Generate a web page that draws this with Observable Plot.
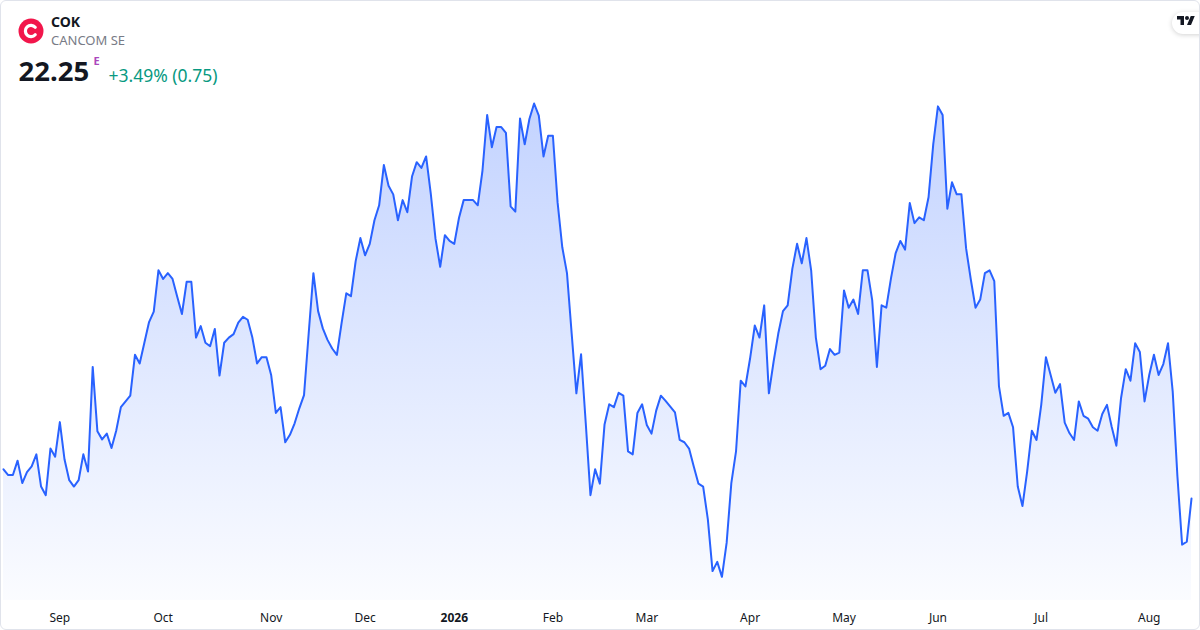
<!DOCTYPE html>
<html>
<head>
<meta charset="utf-8">
<script src="https://cdn.jsdelivr.net/npm/d3@7"></script>
<script src="https://cdn.jsdelivr.net/npm/@observablehq/plot@0.6"></script>
<style>
  html, body { margin: 0; padding: 0; background: #fff; }
  #card { position: relative; width: 1200px; height: 630px; overflow: hidden; font-family: "Noto Sans", sans-serif; background: #fff; }
  #chart { position: absolute; left: 0; top: 96px; }
  #header { position: absolute; left: 0; top: 0; }
  #tv { position: absolute; left: 1172px; top: 12px; width: 44px; height: 22px; border-radius: 11px; background: #fff; box-shadow: 0 1px 5px rgba(0,0,0,0.18); }
  #tv svg { position: absolute; left: 5px; top: 4px; }
  #border { position: absolute; left: 0; top: 0; width: 1200px; height: 630px; box-sizing: border-box; border: 1px solid #e0e3eb; border-radius: 6px; pointer-events: none; }
</style>
</head>
<body>
<div id="card">
  <div id="chart"></div>
  <svg id="header" width="280" height="96" font-family='"Noto Sans", sans-serif'>
    <circle cx="31" cy="31" r="12.5" fill="#F2164B"></circle>
    <path d="M35.2 27.3 A5.6 5.6 0 1 0 35.2 34.7" fill="none" stroke="#fff" stroke-width="3.2" stroke-linecap="round"></path>
    <text id="sym" x="51" y="26.5" font-size="14" font-weight="700" fill="#131722"></text>
    <text id="comp" x="51" y="45" font-size="13" fill="#787B86"></text>
    <text id="last" x="18.5" y="81" font-size="27.5" font-weight="700" fill="#131722"></text>
    <text id="flag" x="93.5" y="65" font-size="11" font-weight="700" fill="#AB47BC"></text>
    <text id="chg" x="108.5" y="81.5" font-size="17.5" fill="#089981"></text>
  </svg>
  <div id="tv">
    <svg width="18" height="9" viewBox="0 4 36 18"><path d="M14 22H7V11H0V4h14v18zM28 22h-8l7.5-18h8L28 22z" fill="#131722"></path><circle cx="20" cy="8" r="4" fill="#131722"></circle></svg>
  </div>
  <div id="border"></div>
</div>
<script>
// ---- header texts ----
const symbol = "COK";
const company = "CANCOM SE";
const lastPrice = "22.25";
const flagText = "E";
const changeText = "+3.49% (0.75)";

// ---- calendar (Xetra trading days) ----
const startDate = "2025-08-14";
const holidays = ["2025-12-24", "2025-12-25", "2025-12-26", "2025-12-31", "2026-01-01", "2026-04-03", "2026-04-06", "2026-05-01"];
const monthNames = ["Jan", "Feb", "Mar", "Apr", "May", "Jun", "Jul", "Aug", "Sep", "Oct", "Nov", "Dec"];

// ---- daily closing prices (EUR) ----
const prices = [
  22.76, 22.66, 22.66, 22.91, 22.52, 22.71, 22.81, 23.02, 22.46, 22.31,
  23.12, 22.98, 23.58, 22.93, 22.57, 22.46, 22.57, 23.02, 22.72, 24.54,
  23.42, 23.28, 23.38, 23.13, 23.43, 23.84, 23.94, 24.04, 24.75, 24.60,
  24.96, 25.32, 25.50, 26.22, 26.07, 26.17, 26.07, 25.76, 25.46, 26.02,
  26.02, 25.05, 25.25, 24.96, 24.90, 25.20, 24.39, 24.96, 25.05, 25.11,
  25.31, 25.41, 25.36, 25.05, 24.60, 24.71, 24.71, 24.40, 23.74, 23.84,
  23.23, 23.36, 23.56, 23.82, 24.05, 25.13, 26.17, 25.51, 25.21, 25.01,
  24.86, 24.75, 25.30, 25.82, 25.77, 26.38, 26.78, 26.48, 26.68, 27.09,
  27.35, 28.05, 27.69, 27.54, 27.09, 27.44, 27.23, 27.85, 28.10, 28.00,
  28.20, 27.55, 26.77, 26.28, 26.83, 26.73, 26.68, 27.13, 27.44, 27.44,
  27.44, 27.35, 27.95, 28.92, 28.36, 28.71, 28.71, 28.61, 27.33, 27.24,
  28.86, 28.41, 28.85, 29.12, 28.91, 28.20, 28.56, 28.56, 27.40, 26.62,
  26.17, 25.12, 24.08, 24.76, 23.56, 22.31, 22.76, 22.51, 23.54, 23.89,
  23.84, 24.09, 24.04, 23.07, 23.02, 23.74, 23.89, 23.53, 23.38, 23.78,
  24.04, 23.95, 23.85, 23.75, 23.27, 23.23, 23.12, 22.81, 22.51, 22.46,
  21.89, 20.99, 21.15, 20.89, 21.48, 22.52, 23.07, 24.30, 24.20, 24.69,
  25.26, 25.05, 25.61, 24.08, 24.63, 25.12, 25.51, 25.61, 26.25, 26.68,
  26.34, 26.78, 26.22, 25.05, 24.50, 24.56, 24.85, 24.75, 24.79, 25.87,
  25.57, 25.71, 25.46, 26.22, 26.22, 25.70, 24.54, 25.61, 25.57, 26.08,
  26.52, 26.73, 26.58, 27.39, 27.04, 27.14, 27.09, 27.49, 28.41, 29.07,
  28.92, 27.29, 27.75, 27.54, 27.54, 26.60, 26.06, 25.57, 25.71, 26.17,
  26.22, 26.03, 24.20, 23.69, 23.74, 23.49, 22.46, 22.12, 22.72, 23.43,
  23.27, 23.88, 24.71, 24.40, 24.09, 24.24, 23.57, 23.39, 23.27, 23.94,
  23.69, 23.64, 23.49, 23.43, 23.72, 23.88, 23.50, 23.17, 24.00, 24.50,
  24.30, 24.95, 24.80, 23.94, 24.40, 24.75, 24.40, 24.59, 24.95, 24.11,
  22.64, 21.45, 21.50, 22.25
];

document.getElementById("sym").textContent = symbol;
document.getElementById("comp").textContent = company;
document.getElementById("last").textContent = lastPrice;
document.getElementById("flag").textContent = flagText;
document.getElementById("chg").textContent = changeText;

// trading dates: weekdays from startDate, skipping exchange holidays
const dates = [];
{
  const d = new Date(startDate + "T12:00:00Z");
  while (dates.length < prices.length) {
    const dow = d.getUTCDay();
    const iso = d.toISOString().slice(0, 10);
    if (dow !== 0 && dow !== 6 && !holidays.includes(iso)) dates.push(new Date(d));
    d.setUTCDate(d.getUTCDate() + 1);
  }
}
const data = prices.map((p, i) => ({i, date: dates[i], price: p}));

const monthTicks = [], yearTicks = [];
for (let i = 1; i < dates.length; i++) {
  if (dates[i].getUTCMonth() !== dates[i - 1].getUTCMonth()) {
    (dates[i].getUTCMonth() === 0 ? yearTicks : monthTicks).push(i);
  }
}
const tickLabel = (i) => dates[i].getUTCMonth() === 0 ? String(dates[i].getUTCFullYear()) : monthNames[dates[i].getUTCMonth()];

const [lo, hi] = d3.extent(prices);
const base = lo - (hi - lo) * 0.05;

const gradientDefs = () => {
  const ns = "http://www.w3.org/2000/svg";
  const defs = document.createElementNS(ns, "defs");
  defs.innerHTML = '<linearGradient id="areaGrad" x1="0" y1="0" x2="0" y2="1">' +
    '<stop offset="0" stop-color="#2962FF" stop-opacity="0.28"></stop>' +
    '<stop offset="1" stop-color="#2962FF" stop-opacity="0.02"></stop></linearGradient>';
  return defs;
};

const chart = Plot.plot({
  width: 1200,
  height: 534,
  marginTop: 7,
  marginBottom: 30,
  marginLeft: 3,
  marginRight: 9,
  x: {type: "linear", domain: [0, prices.length - 1], label: null},
  y: {domain: [base, hi], axis: null},
  style: {fontFamily: '"Noto Sans", sans-serif', fontSize: "12px", color: "#131722", background: "transparent", overflow: "visible"},
  marks: [
    gradientDefs,
    Plot.areaY(data, {x: "i", y1: base, y2: "price", fill: "url(#areaGrad)"}),
    Plot.lineY(data, {x: "i", y: "price", stroke: "#2962FF", strokeWidth: 2}),
    Plot.axisX({ticks: monthTicks, tickFormat: tickLabel, tickSize: 0, tickPadding: 13, fill: "#131722", label: null}),
    Plot.axisX({ticks: yearTicks, tickFormat: tickLabel, tickSize: 0, tickPadding: 13, fill: "#131722", fontWeight: "bold", label: null})
  ]
});
document.getElementById("chart").appendChild(chart);
</script>
</body>
</html>
